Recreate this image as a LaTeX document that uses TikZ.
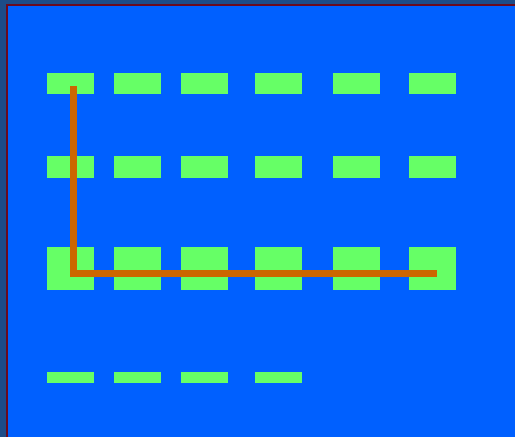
\documentclass[tikz,border=0pt]{standalone}
\usepackage{xcolor}
\usepackage{tikz}
\usetikzlibrary{positioning}

\definecolor{outerblue}{HTML}{1C4C88}
\definecolor{borderred}{HTML}{6A0A1E}
\definecolor{panelblue}{HTML}{0060FF}
\definecolor{padgreen}{HTML}{66FF66}
\definecolor{routeorange}{HTML}{CC6600}

\begin{document}
\begin{tikzpicture}[
  x=1pt, y=-1pt,
  pad/.style={fill=padgreen, draw=none, inner sep=0pt, minimum width=47pt,
              anchor=north west},
  route/.style={draw=routeorange, line width=7pt}]
  \useasboundingbox (0,0) rectangle (515,437);
  \fill[outerblue] (0,0) rectangle (515,437);
  \draw[fill=panelblue, draw=borderred, line width=2pt] (7,5) rectangle (518,440);
  % pad rows
  \foreach \y/\h [count=\r] in {73/21,156/22,247/43}
    \foreach \x [count=\c] in {47,114,181,255,333,409}
      \node[pad, minimum height=\h pt] (p\r\c) at (\x,\y) {};
  \foreach \x [count=\c] in {47,114,181,255}
    \node[pad, minimum height=11pt] (p4\c) at (\x,372) {};
  % route
  \coordinate (start) at (73,86);
  \coordinate (bend) at (73,273.5);
  \coordinate (stop) at (437,273.5);
  \draw[route] (start) -- (bend) -- (stop);
\end{tikzpicture}
\end{document}
